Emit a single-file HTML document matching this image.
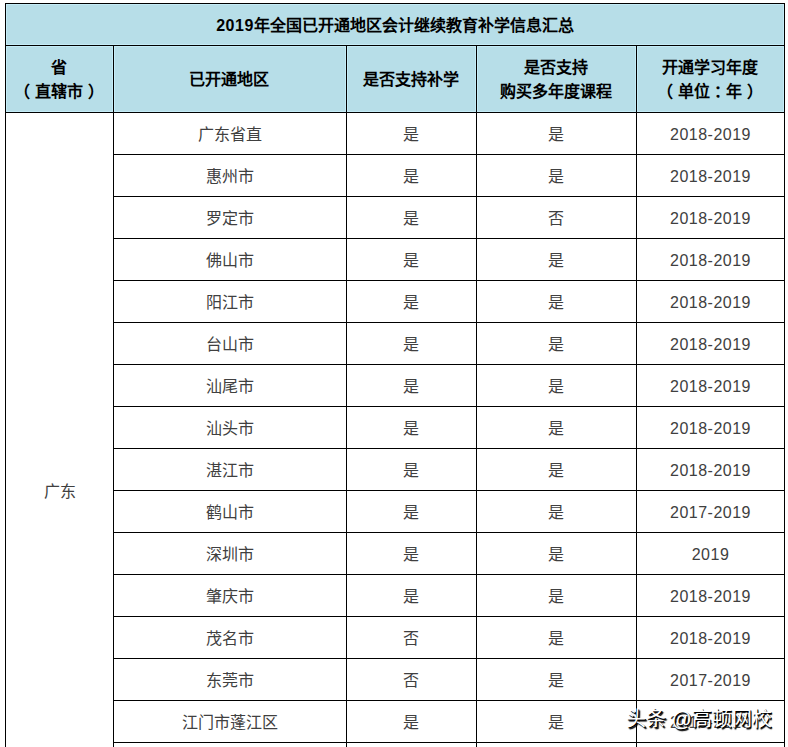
<!DOCTYPE html>
<html lang="zh-CN">
<head>
<meta charset="utf-8">
<title>2019年全国已开通地区会计继续教育补学信息汇总</title>
<style>
  html, body { margin: 0; padding: 0; }
  body {
    width: 788px; height: 747px; overflow: hidden; position: relative;
    background: #fff;
    font-family: "Liberation Sans", sans-serif;
    font-size: 16px; line-height: 20px; color: #404040;
  }
  table {
    position: absolute; left: 5px; top: 3px;
    width: 780px; table-layout: fixed;
    border-collapse: collapse; border-spacing: 0;
  }
  th, td {
    border: 1px solid #000; padding: 2px 0 0; text-align: center; vertical-align: middle;
    font-weight: normal; overflow: hidden; white-space: nowrap;
  }
  thead th {
    background: #b7dee8; color: #000; font-weight: bold;
    box-shadow: inset 0 0 0 1px #c5ecf7;
  }
  tr.title th { height: 39px; }
  tr.cols th { height: 64px; line-height: 24px; padding-right: 2px; }
  tbody td { height: 39px; }
  tbody td:nth-last-child(2), tbody td:nth-last-child(3) { padding-right: 2px; }
  tbody td.yr { letter-spacing: 0.5px; }
  .num { letter-spacing: 0.5px; }
  /* fullwidth punctuation: centre the ink inside its em box */
  .pl { position: relative; left: -5px; }
  .pr { position: relative; left: 5px; }
  .pc { position: relative; left: 4px; }
  td.prov { vertical-align: top; }
  td.prov span { display: block; margin-top: 367px; }
  .wm {
    position: absolute; left: 626px; top: 705px; white-space: nowrap;
    font-size: 20px; line-height: 28px; color: #fff;
    text-shadow: 1.5px 1.5px 1px #000, 1px 1px 0 #000;
  }
</style>
</head>
<body>
<table>
  <colgroup>
    <col style="width:108px"><col style="width:233px"><col style="width:130px"><col style="width:160px"><col style="width:148px">
  </colgroup>
  <thead>
    <tr class="title"><th colspan="5"><span class="num">2019</span>年全国已开通地区会计继续教育补学信息汇总</th></tr>
    <tr class="cols">
      <th>省<br><span class="pl">（</span>直辖市<span class="pr">）</span></th>
      <th>已开通地区</th>
      <th>是否支持补学</th>
      <th>是否支持<br>购买多年度课程</th>
      <th>开通学习年度<br><span class="pl">（</span>单位<span class="pc">：</span>年<span class="pr">）</span></th>
    </tr>
  </thead>
  <tbody>
    <tr><td class="prov" rowspan="16"><span>广东</span></td><td>广东省直</td><td>是</td><td>是</td><td class="yr">2018-2019</td></tr>
    <tr><td>惠州市</td><td>是</td><td>是</td><td class="yr">2018-2019</td></tr>
    <tr><td>罗定市</td><td>是</td><td>否</td><td class="yr">2018-2019</td></tr>
    <tr><td>佛山市</td><td>是</td><td>是</td><td class="yr">2018-2019</td></tr>
    <tr><td>阳江市</td><td>是</td><td>是</td><td class="yr">2018-2019</td></tr>
    <tr><td>台山市</td><td>是</td><td>是</td><td class="yr">2018-2019</td></tr>
    <tr><td>汕尾市</td><td>是</td><td>是</td><td class="yr">2018-2019</td></tr>
    <tr><td>汕头市</td><td>是</td><td>是</td><td class="yr">2018-2019</td></tr>
    <tr><td>湛江市</td><td>是</td><td>是</td><td class="yr">2018-2019</td></tr>
    <tr><td>鹤山市</td><td>是</td><td>是</td><td class="yr">2017-2019</td></tr>
    <tr><td>深圳市</td><td>是</td><td>是</td><td class="yr">2019</td></tr>
    <tr><td>肇庆市</td><td>是</td><td>是</td><td class="yr">2018-2019</td></tr>
    <tr><td>茂名市</td><td>否</td><td>是</td><td class="yr">2018-2019</td></tr>
    <tr><td>东莞市</td><td>否</td><td>是</td><td class="yr">2017-2019</td></tr>
    <tr><td>江门市蓬江区</td><td>是</td><td>是</td><td class="yr">2018-2019</td></tr>
    <tr><td>&nbsp;</td><td>&nbsp;</td><td>&nbsp;</td><td>&nbsp;</td></tr>
  </tbody>
</table>
<div class="wm">头条 @高顿网校</div>
</body>
</html>
